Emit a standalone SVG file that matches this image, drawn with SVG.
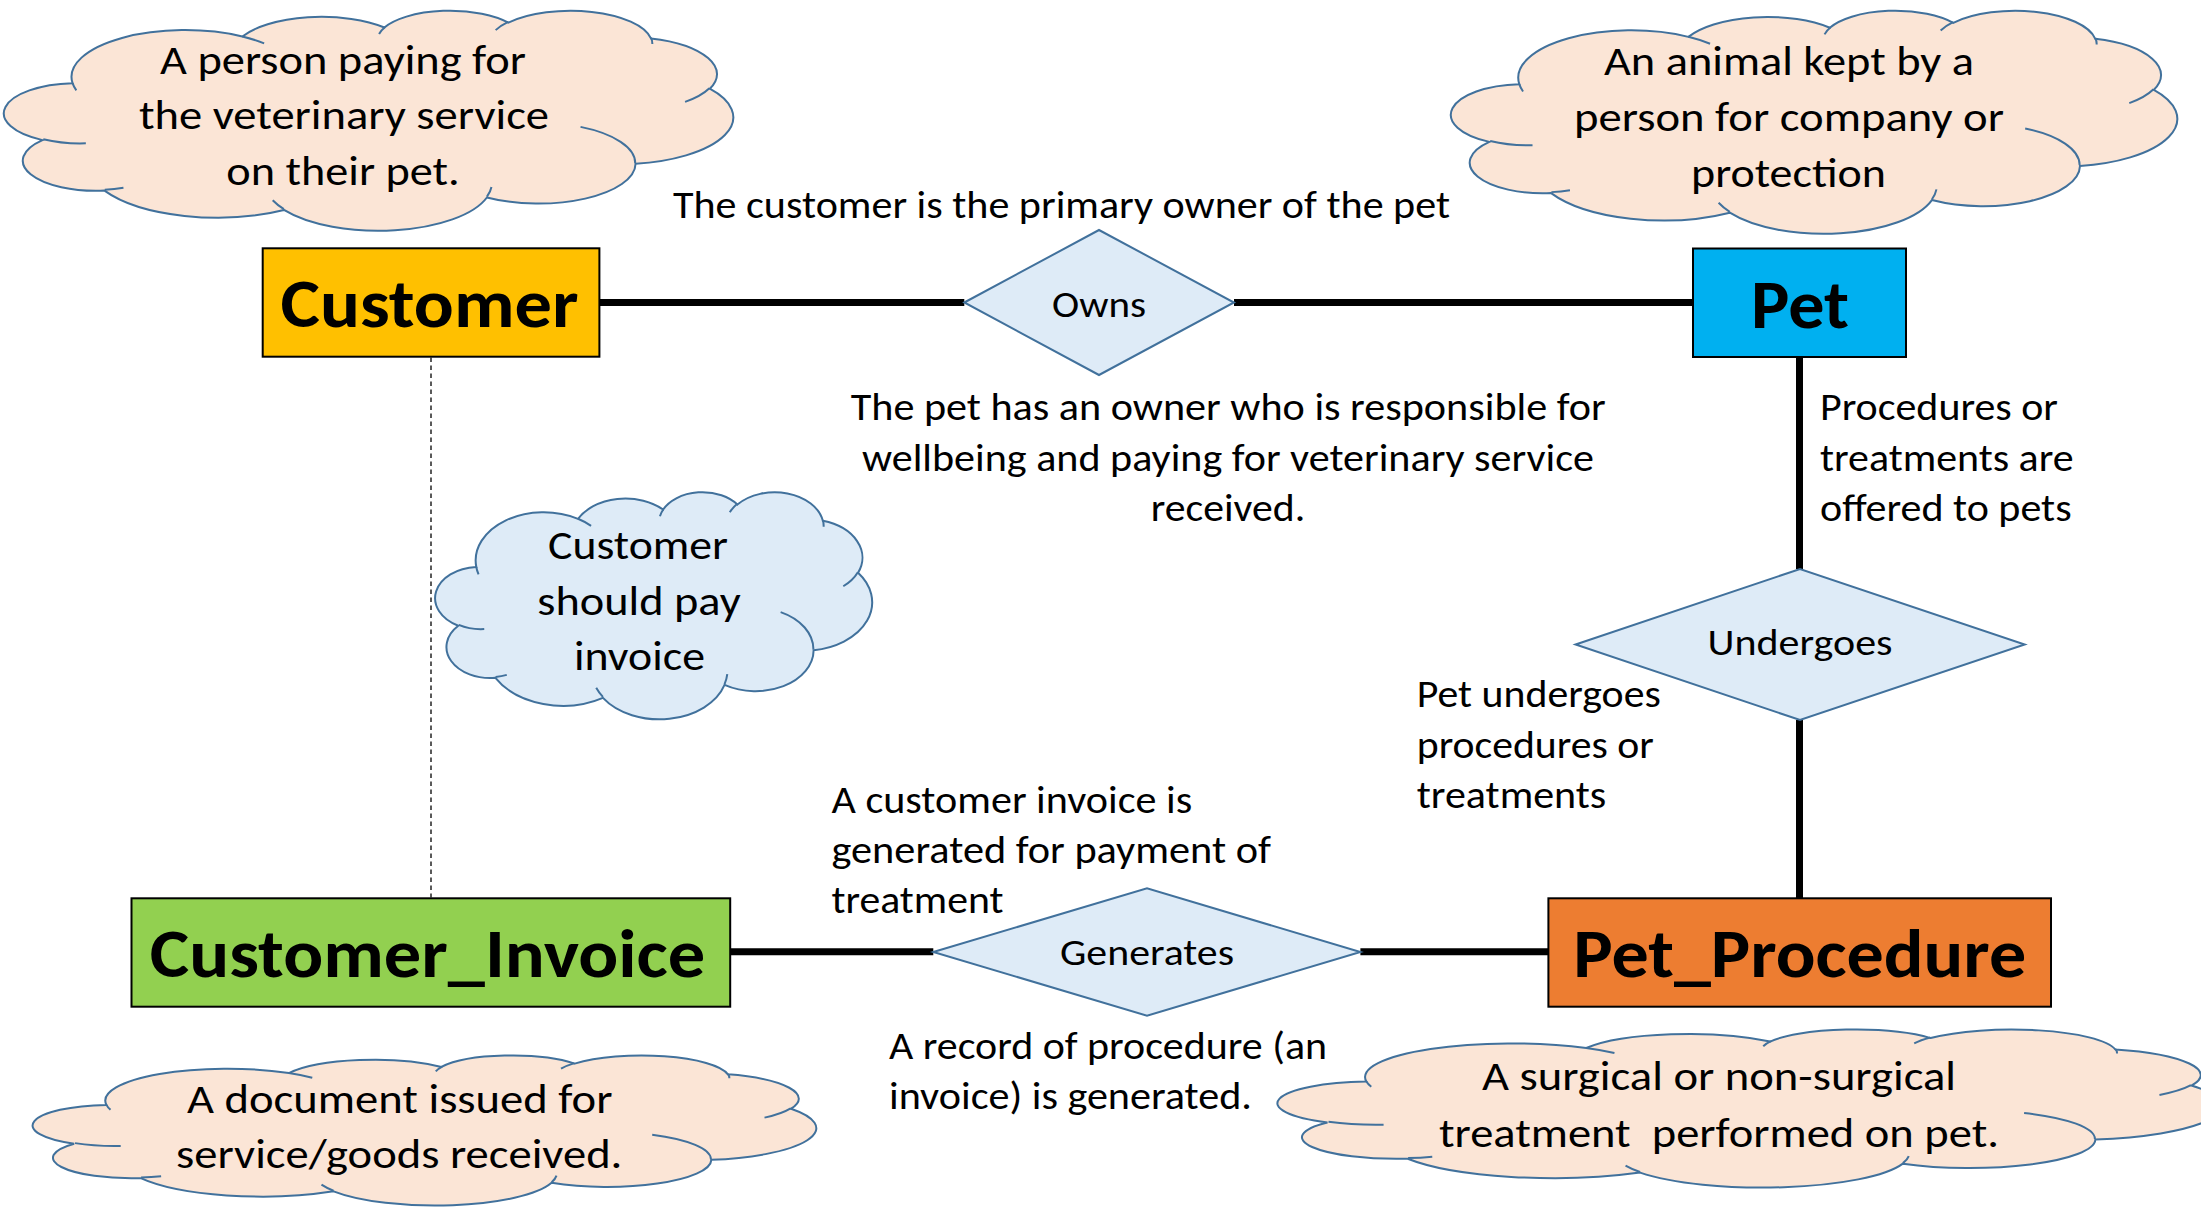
<svg xmlns="http://www.w3.org/2000/svg" xmlns:xlink="http://www.w3.org/1999/xlink" width="2201" height="1207" viewBox="0 0 2201 1207">
<style>
.t{font-family:Carlito,Lato,"Liberation Sans",sans-serif;fill:#000}
.desc{font-size:38px}
.cl{font-size:42px}
.rel{font-size:37px}
.ent{font-size:68px;font-weight:700}
.m{text-anchor:middle}
.ln{stroke:#000;stroke-width:7;fill:none}
.dash{stroke:#595959;stroke-width:2;stroke-dasharray:4.5 3.5;fill:none}
.box{stroke:#000;stroke-width:2}
.dia{fill:#DEEBF7;stroke:#41719C;stroke-width:2}
.co{stroke:#41719C;stroke-width:2;vector-effect:non-scaling-stroke}
.ci{stroke:#41719C;stroke-width:2;fill:none;vector-effect:non-scaling-stroke}
</style>
<defs>
<g id="cloud">
<path class="co" d="M9.03 33.26A15.63 21.27 0 0 1 32.42 12.04A12.35 16.82 0 0 1 51.98 7.95A10.10 13.76 0 0 1 69.06 5.75A11.24 15.27 0 0 1 88.70 12.91A12.35 16.84 0 0 1 96.80 35.79A15.68 21.34 0 0 1 86.58 69.91A13.39 18.21 0 0 1 66.10 85.22A15.63 21.33 0 0 1 38.15 90.89A17.87 24.41 0 0 1 13.43 82.10A10.09 13.70 0 0 1 4.89 59.14A10.06 13.76 0 0 1 9.03 33.26Z"/>
<path class="ci" d="M10.86 60.60A10.06 13.76 0 0 1 5.00 58.75M16.04 80.78A10.09 13.70 0 0 1 13.47 81.67M38.14 90.49A15.63 21.33 0 0 1 36.60 86.46M66.73 80.44A15.63 21.33 0 0 1 66.11 84.86M79.00 53.13A13.39 18.21 0 0 1 86.53 69.65M96.75 35.54A12.35 16.84 0 0 1 93.40 41.74M88.71 12.56A11.24 15.27 0 0 1 88.89 15.49M67.31 9.15A11.24 15.27 0 0 1 69.03 5.41M51.25 10.93A10.10 13.76 0 0 1 52.08 7.71M32.41 12.02A15.63 21.27 0 0 1 35.42 15.14M9.55 36.55A15.63 21.27 0 0 1 9.03 33.26"/>
</g>
</defs>
<rect x="0" y="0" width="2201" height="1207" fill="#FFFFFF"/>

<g id="connectors">
<line class="ln" x1="599.4" y1="302.5" x2="964.3" y2="302.5"/>
<line class="ln" x1="1234" y1="302.5" x2="1693" y2="302.5"/>
<line class="ln" x1="1799.5" y1="357" x2="1799.5" y2="569"/>
<line class="ln" x1="1799.5" y1="720" x2="1799.5" y2="898.3"/>
<line class="ln" x1="730.2" y1="951.7" x2="933.3" y2="951.7"/>
<line class="ln" x1="1360.4" y1="951.7" x2="1548.4" y2="951.7"/>
<line class="dash" x1="431" y1="357.5" x2="431" y2="897.5"/>
</g>

<g id="customer">
<rect class="box" x="262.7" y="248.3" width="336.7" height="108.4" fill="#FFC000"/>
<text class="t ent m" x="429.5" y="327" textLength="298" lengthAdjust="spacingAndGlyphs">Customer</text>
</g>

<g id="pet">
<rect class="box" x="1693" y="248.5" width="213" height="108.5" fill="#00B0F0"/>
<text class="t ent m" x="1800" y="328" textLength="98" lengthAdjust="spacingAndGlyphs">Pet</text>
</g>

<g id="customer_invoice">
<rect class="box" x="131.5" y="898.3" width="598.7" height="108.4" fill="#92D050"/>
<text class="t ent m" x="427.5" y="976.7" textLength="555.5" lengthAdjust="spacingAndGlyphs">Customer_Invoice</text>
</g>

<g id="pet_procedure">
<rect class="box" x="1548.4" y="898.3" width="502.6" height="108.4" fill="#ED7D31"/>
<text class="t ent m" x="1799.7" y="976.7" textLength="453" lengthAdjust="spacingAndGlyphs">Pet_Procedure</text>
</g>

<g id="owns">
<polygon class="dia" points="964.3,302.5 1099,230 1234,302.5 1099,375"/>
<text class="t rel m" x="1099" y="316.7" textLength="94" lengthAdjust="spacingAndGlyphs">Owns</text>
</g>

<g id="undergoes">
<polygon class="dia" points="1575.6,644.5 1800,569 2024.7,644.5 1800,720"/>
<text class="t rel m" x="1800" y="655" textLength="185" lengthAdjust="spacingAndGlyphs">Undergoes</text>
</g>

<g id="generates">
<polygon class="dia" points="933.3,952 1147,888.3 1360.4,952 1147,1015.7"/>
<text class="t rel m" x="1147" y="965" textLength="174" lengthAdjust="spacingAndGlyphs">Generates</text>
</g>

<g id="note-customer">
<use xlink:href="#cloud" href="#cloud" fill="#FBE5D6" transform="translate(7,10) scale(7.26,2.2)"/>
<text class="t cl m" x="343" y="73.5" textLength="366" lengthAdjust="spacingAndGlyphs">A person paying for</text>
<text class="t cl m" x="344" y="129" textLength="410" lengthAdjust="spacingAndGlyphs">the veterinary service</text>
<text class="t cl m" x="343" y="185" textLength="233.5" lengthAdjust="spacingAndGlyphs">on their pet.</text>
</g>

<g id="note-pet">
<use xlink:href="#cloud" href="#cloud" fill="#FBE5D6" transform="translate(1454,10) scale(7.23,2.23)"/>
<text class="t cl m" x="1789" y="75" textLength="370" lengthAdjust="spacingAndGlyphs">An animal kept by a</text>
<text class="t cl m" x="1789" y="131" textLength="430" lengthAdjust="spacingAndGlyphs">person for company or</text>
<text class="t cl m" x="1788.5" y="187" textLength="195" lengthAdjust="spacingAndGlyphs">protection</text>
</g>

<g id="note-pay">
<use xlink:href="#cloud" href="#cloud" fill="#DEEBF7" transform="translate(437,491.5) scale(4.35,2.27)"/>
<text class="t cl m" x="638" y="559" textLength="180" lengthAdjust="spacingAndGlyphs">Customer</text>
<text class="t cl m" x="639" y="614.5" textLength="203.4" lengthAdjust="spacingAndGlyphs">should pay</text>
<text class="t cl m" x="639.5" y="670" textLength="131" lengthAdjust="spacingAndGlyphs">invoice</text>
</g>

<g id="note-invoice">
<use xlink:href="#cloud" href="#cloud" fill="#FBE5D6" transform="translate(36,1055) scale(7.8,1.5)"/>
<text class="t cl m" x="399.7" y="1113.3" textLength="425.4" lengthAdjust="spacingAndGlyphs">A document issued for</text>
<text class="t cl m" x="399.2" y="1168.3" textLength="446.4" lengthAdjust="spacingAndGlyphs">service/goods received.</text>
</g>

<g id="note-procedure">
<use xlink:href="#cloud" href="#cloud" fill="#FBE5D6" transform="translate(1281.5,1029) scale(9.4,1.58)"/>
<text class="t cl m" x="1719" y="1090" textLength="474" lengthAdjust="spacingAndGlyphs">A surgical or non-surgical</text>
<text class="t cl m" x="1719" y="1146.7" textLength="560" lengthAdjust="spacingAndGlyphs" xml:space="preserve">treatment  performed on pet.</text>
</g>

<g id="labels">
<text class="t desc" x="673" y="218" textLength="777" lengthAdjust="spacingAndGlyphs">The customer is the primary owner of the pet</text>
<text class="t desc m" x="1228.2" y="419.7" textLength="755" lengthAdjust="spacingAndGlyphs">The pet has an owner who is responsible for</text>
<text class="t desc m" x="1228" y="470.5" textLength="732" lengthAdjust="spacingAndGlyphs">wellbeing and paying for veterinary service</text>
<text class="t desc m" x="1228" y="521" textLength="154.5" lengthAdjust="spacingAndGlyphs">received.</text>
<text class="t desc" x="1820" y="419.7" textLength="238" lengthAdjust="spacingAndGlyphs">Procedures or</text>
<text class="t desc" x="1820" y="470.5" textLength="253.6" lengthAdjust="spacingAndGlyphs">treatments are</text>
<text class="t desc" x="1820" y="521" textLength="251.6" lengthAdjust="spacingAndGlyphs">offered to pets</text>
<text class="t desc" x="1416.8" y="707" textLength="244" lengthAdjust="spacingAndGlyphs">Pet undergoes</text>
<text class="t desc" x="1416.8" y="757.5" textLength="237" lengthAdjust="spacingAndGlyphs">procedures or</text>
<text class="t desc" x="1416.8" y="808" textLength="189.5" lengthAdjust="spacingAndGlyphs">treatments</text>
<text class="t desc" x="831.5" y="812.5" textLength="360.7" lengthAdjust="spacingAndGlyphs">A customer invoice is</text>
<text class="t desc" x="831.5" y="862.5" textLength="439.4" lengthAdjust="spacingAndGlyphs">generated for payment of</text>
<text class="t desc" x="831.5" y="912.5" textLength="172" lengthAdjust="spacingAndGlyphs">treatment</text>
<text class="t desc" x="889" y="1059" textLength="438" lengthAdjust="spacingAndGlyphs">A record of procedure (an</text>
<text class="t desc" x="889" y="1109" textLength="363" lengthAdjust="spacingAndGlyphs">invoice) is generated.</text>
</g>
</svg>
